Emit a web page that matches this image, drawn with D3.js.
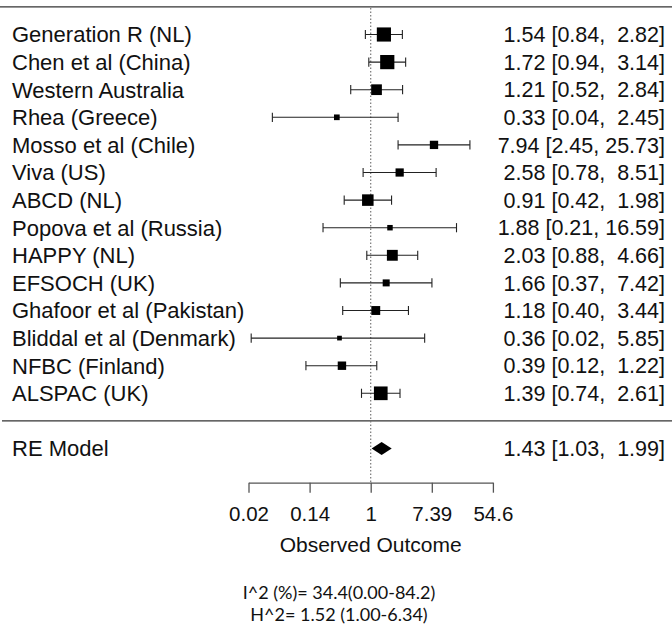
<!DOCTYPE html>
<html>
    <head>
        <title>Forest plot</title>
        <style>
            body { margin: 0; background: #fff; }
            text { font-family: "Liberation Sans", Arial, sans-serif; fill: #111; }
        </style>
    </head>
    <body>
        <svg></svg>

        <script src="https://d3js.org/d3.v7.min.js"></script>
        <script>
            // study names, top to bottom
            var studies = ["Generation R (NL)", "Chen et al (China)", "Western Australia", "Rhea (Greece)",
                "Mosso et al (Chile)", "Viva (US)", "ABCD (NL)", "Popova et al (Russia)", "HAPPY (NL)",
                "EFSOCH (UK)", "Ghafoor et al (Pakistan)", "Bliddal et al (Denmark)", "NFBC (Finland)", "ALSPAC (UK)"];
            // odds ratios with 95% CI
            var estimate = [1.54, 1.72, 1.21, 0.33, 7.94, 2.58, 0.91, 1.88, 2.03, 1.66, 1.18, 0.36, 0.39, 1.39];
            var lower    = [0.84, 0.94, 0.52, 0.04, 2.45, 0.78, 0.42, 0.21, 0.88, 0.37, 0.40, 0.02, 0.12, 0.74];
            var upper    = [2.82, 3.14, 2.84, 2.45, 25.73, 8.51, 1.98, 16.59, 4.66, 7.42, 3.44, 5.85, 1.22, 2.61];

            // pooled random effects model
            var reLabel = "RE Model";
            var reEstimate = [1.43, 1.03, 1.99];

            // axis ticks (log scale)
            var tickValues = [Math.exp(-4), Math.exp(-2), 1, Math.exp(2), Math.exp(4)];
            var tickLabels = ["0.02", "0.14", "1", "7.39", "54.6"];
            var xLabel = "Observed Outcome";
            var heterogeneity = ["I^2 (%)= 34.4(0.00-84.2)", "H^2= 1.52 (1.00-6.34)"];

            var width = 672, height = 629;
            var svg = d3.select("svg")
                .attr("width", width)
                .attr("height", height);

            var x = d3.scaleLog()
                .domain([Math.exp(-4), Math.exp(4)])
                .range([248.5, 492.9]);

            // rows: 0 = first study
            var row = d3.scaleLinear()
                .domain([0, 13])
                .range([34.5, 393.3]);

            var fmt = d3.format(".2f");
            function ciText(e, l, u) {
                return fmt(e) + " [" + fmt(l) + ", " + (u < 10 ? "\u00a0" : "") + fmt(u) + "]";
            }

            // marker size from precision (1/se), like metafor
            var prec = studies.map(function(d, i) {
                return 3.92 / (Math.log(upper[i]) - Math.log(lower[i]));
            });
            var size = d3.scaleLinear()
                .domain(d3.extent(prec))
                .range([4.7, 14.2]);

            // top and separator lines
            svg.append("line")
                .attr("x1", 0).attr("x2", width)
                .attr("y1", row(-1)).attr("y2", row(-1))
                .attr("stroke", "#333").attr("stroke-width", 1.2);
            svg.append("line")
                .attr("x1", 2).attr("x2", width)
                .attr("y1", row(14)).attr("y2", row(14))
                .attr("stroke", "#333").attr("stroke-width", 1.2);

            // reference line at 1
            svg.append("line")
                .attr("x1", x(1)).attr("x2", x(1))
                .attr("y1", row(-1) + 1).attr("y2", 482.7)
                .attr("stroke", "#777")
                .attr("stroke-width", 1.2)
                .attr("stroke-dasharray", "1.5,2");

            var rows = svg.selectAll("g.study")
                .data(studies).enter().append("g")
                .attr("class", "study")
                .attr("transform", function(d, i) { return "translate(0," + row(i) + ")"; });

            rows.append("text")
                .attr("x", 12)
                .attr("dy", "0.36em")
                .style("font-size", "22px")
                .text(function(d) { return d; });

            rows.append("text")
                .attr("x", 665)
                .attr("dy", "0.36em")
                .attr("text-anchor", "end")
                .style("font-size", "21.5px")
                .text(function(d, i) { return ciText(estimate[i], lower[i], upper[i]); });

            // CI lines
            rows.append("line")
                .attr("x1", function(d, i) { return x(lower[i]); })
                .attr("x2", function(d, i) { return x(upper[i]); })
                .attr("stroke", "#222").attr("stroke-width", 1.1);
            rows.append("line")
                .attr("x1", function(d, i) { return x(lower[i]); })
                .attr("x2", function(d, i) { return x(lower[i]); })
                .attr("y1", -4.6).attr("y2", 4.6)
                .attr("stroke", "#222").attr("stroke-width", 1.1);
            rows.append("line")
                .attr("x1", function(d, i) { return x(upper[i]); })
                .attr("x2", function(d, i) { return x(upper[i]); })
                .attr("y1", -4.6).attr("y2", 4.6)
                .attr("stroke", "#222").attr("stroke-width", 1.1);

            // squares
            rows.append("rect")
                .attr("x", function(d, i) { return x(estimate[i]) - size(prec[i]) / 2; })
                .attr("y", function(d, i) { return -size(prec[i]) / 2; })
                .attr("width", function(d, i) { return size(prec[i]); })
                .attr("height", function(d, i) { return size(prec[i]); })
                .attr("fill", "#000");

            // RE model
            var yRE = row(15);
            svg.append("text")
                .attr("x", 12).attr("y", yRE)
                .attr("dy", "0.36em")
                .style("font-size", "22px")
                .text(reLabel);
            svg.append("text")
                .attr("x", 665).attr("y", yRE)
                .attr("dy", "0.36em")
                .attr("text-anchor", "end")
                .style("font-size", "21.5px")
                .text(ciText(reEstimate[0], reEstimate[1], reEstimate[2]));
            svg.append("path")
                .attr("d", d3.line()([
                    [x(reEstimate[1]), yRE], [x(reEstimate[0]), yRE - 6.4],
                    [x(reEstimate[2]), yRE], [x(reEstimate[0]), yRE + 6.4]
                ]) + "Z")
                .attr("fill", "#000");

            // x axis
            var axis = svg.append("g")
                .attr("transform", "translate(0,482.7)")
                .call(d3.axisBottom(x)
                    .tickValues(tickValues)
                    .tickFormat(function(d, i) { return tickLabels[i]; })
                    .tickSize(10)
                    .tickSizeOuter(0)
                    .tickPadding(14));
            axis.select(".domain").attr("stroke", "#555").attr("stroke-width", 1.3);
            axis.selectAll(".tick line").attr("stroke", "#555").attr("stroke-width", 1.3);
            axis.selectAll(".tick text")
                .style("font-family", "'Liberation Sans', Arial, sans-serif")
                .style("font-size", "20.5px")
                .attr("fill", "#111");

            svg.append("text")
                .attr("x", x(1)).attr("y", 552)
                .attr("text-anchor", "middle")
                .style("font-size", "21px")
                .text(xLabel);

            // heterogeneity stats
            svg.selectAll("text.het")
                .data(heterogeneity).enter().append("text")
                .attr("class", "het")
                .attr("x", 339)
                .attr("y", function(d, i) { return 599 + i * 22; })
                .attr("text-anchor", "middle")
                .style("font-family", "Lato, 'Open Sans', sans-serif")
                .style("font-size", "18px")
                .text(function(d) { return d; });
        </script>
    </body>
</html>
